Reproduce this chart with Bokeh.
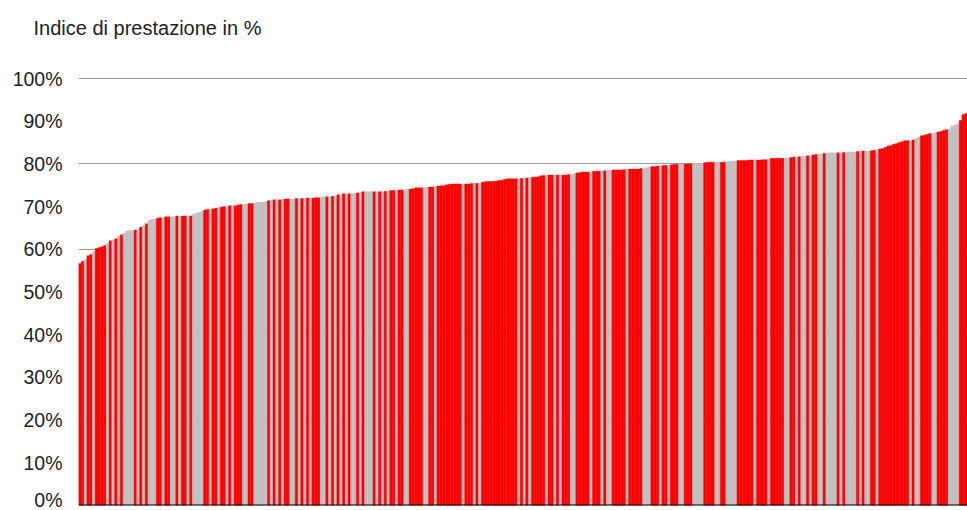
from bokeh.plotting import figure
from bokeh.models import Range1d, FixedTicker, PrintfTickFormatter, Span, ColumnDataSource
from bokeh.embed import file_html
from bokeh.resources import INLINE

# Indice di prestazione (%) per ciascuna unità, ordinato in modo crescente
valori_a = [56.7, 57.2, 57.6, 58.5, 58.8, 59.5, 60.2, 60.4, 60.6, 60.9, 61.4, 62.0, 62.2, 62.5,
            63.0, 63.4, 63.8, 64.3, 64.4, 64.4, 64.5, 64.9, 65.2, 65.6, 66.0, 66.8, 67.0, 67.1,
            67.3, 67.4, 67.5, 67.6, 67.6, 67.6, 67.7, 67.8, 67.8, 67.8, 67.8, 67.8, 67.8, 68.2,
            68.5, 68.7, 68.9, 69.2, 69.3, 69.4, 69.5, 69.6, 69.8, 69.9, 70.0]
gruppi_a = "RR G RR G RRRR G R G R G R GGGG R G R G R GGG RR G RR GG R G RR G R GGGG RR G RR G RR"

valori_b = [70.1, 70.2, 70.2, 70.2, 70.4, 70.5, 70.5, 70.6, 70.7, 70.7, 70.9, 71.0, 71.1, 71.1,
            71.2, 71.4, 71.5, 71.6, 71.6, 71.6, 71.7, 71.8, 71.8, 71.8, 71.8, 71.9, 71.9, 71.9,
            71.9, 72.0, 72.0, 72.0, 72.1, 72.1, 72.2, 72.3, 72.3, 72.3, 72.4, 72.5, 72.8, 72.9,
            73.0, 73.0, 73.0, 73.0, 73.1, 73.2, 73.3, 73.5, 73.5, 73.5, 73.5, 73.5, 73.5, 73.5, 73.5]
gruppi_b = "G R G RRR GG RR GGGGG R G R G R G RR GG R G R G R G RRR GG R G R G R G R G R GG R G R GGG R G R G"

valori_c = [73.6, 73.7, 73.8, 73.8, 73.8, 73.9, 73.9, 74.0, 74.1, 74.1, 74.2, 74.4, 74.4, 74.4,
            74.5, 74.5, 74.6, 74.6, 74.7, 74.8, 74.9, 74.9, 75.1, 75.2, 75.3, 75.3, 75.3, 75.3,
            75.3, 75.3, 75.3, 75.4, 75.4, 75.5, 75.5, 75.7, 75.8, 75.9, 75.9, 75.9, 76.0, 76.1,
            76.2, 76.4, 76.5, 76.5, 76.5, 76.5, 76.6, 76.6, 76.7, 76.7, 76.8, 76.9, 76.9]
gruppi_c = "R G RR G RR GG RRRRR GG RR G RRRRRRRRR G RRR G R G RRRRRRRRRRRRR G R G R G RR"

valori_d = [77.0, 77.2, 77.3, 77.3, 77.4, 77.4, 77.4, 77.4, 77.4, 77.4, 77.4, 77.5, 77.6, 77.7,
            77.9, 78.0, 78.1, 78.1, 78.1, 78.2, 78.3, 78.3, 78.3, 78.4, 78.4, 78.5, 78.5, 78.6,
            78.6, 78.6, 78.6, 78.7, 78.8, 78.8, 78.8, 78.8, 78.8, 78.9, 79.0, 79.1, 79.3, 79.4,
            79.4, 79.5, 79.6, 79.6, 79.6, 79.7, 79.8, 79.9, 79.9, 80.0]
gruppi_d = "RRR G RR G R G RRR GG RRRRR G RRR G R GG RRRRR G RRRRR GGG RRR G RR G RRR G"

valori_e = [80.0, 80.0, 80.0, 80.0, 80.1, 80.1, 80.1, 80.2, 80.3, 80.4, 80.4, 80.4, 80.4, 80.4,
            80.4, 80.4, 80.5, 80.6, 80.6, 80.7, 80.8, 80.8, 80.8, 80.8, 80.9, 80.9, 80.9, 80.9,
            80.9, 81.0, 81.0, 81.1, 81.3, 81.3, 81.3, 81.3, 81.3, 81.4, 81.4, 81.5, 81.6, 81.6,
            81.7, 81.8, 81.8, 81.9, 81.9, 82.1, 82.2, 82.3, 82.3, 82.5, 82.5, 82.6]
gruppi_e = "G RRR GGGG RRRR GG RR GGGG RRRRRR G RRRR G RRRRR GG RR G R GG R G RR GG R GG"

valori_f = [82.6, 82.6, 82.6, 82.6, 82.7, 82.7, 82.8, 82.8, 82.8, 82.9, 82.9, 83.0, 83.0, 83.0,
            83.1, 83.2, 83.4, 83.5, 83.6, 83.9, 84.2, 84.3, 84.6, 84.8, 85.0, 85.2, 85.4, 85.5,
            85.5, 85.6, 86.0, 86.3, 86.6, 86.7, 86.9, 87.1, 87.2, 87.3, 87.5, 87.6, 87.9, 88.0,
            88.2, 88.9, 89.1, 89.4, 90.2, 91.6, 91.8]
gruppi_f = "GG R G R GGGG R G R GG RR G RRRRRRRRRRR G R GG RRRR GG RRRR GGGG RRR"

tick_y = [0, 10, 20, 30, 40, 50, 60, 70, 80, 90, 100]
griglia_y = [20, 40, 60, 80, 100]
titolo = "Indice di prestazione in %"
colori_gruppo = {"R": "#FF0000", "G": "#C0C0C0"}

valori = valori_a + valori_b + valori_c + valori_d + valori_e + valori_f
gruppi = list((gruppi_a + gruppi_b + gruppi_c + gruppi_d + gruppi_e + gruppi_f).replace(" ", ""))
n = min(len(valori), len(gruppi))
valori = valori[:n]
gruppi = gruppi[:n]

src = ColumnDataSource(dict(
    x=list(range(n)),
    top=valori,
    colore=[colori_gruppo[g] for g in gruppi],
))

p = figure(width=967, height=510, output_backend="svg", toolbar_location=None,
           x_range=Range1d(-0.5, n - 0.5), y_range=Range1d(0, 107.03),
           min_border_left=78, min_border_right=0, min_border_top=48, min_border_bottom=5,
           title=titolo)

p.vbar(x="x", top="top", bottom=0, width=1, source=src,
       fill_color="colore", line_color="colore", line_width=0.4)

p.title.text_font = "Liberation Sans"
p.title.text_font_size = "20px"
p.title.text_font_style = "normal"
p.title.text_color = "#222222"
p.title.align = "left"
p.title.offset = -45
p.title.standoff = 20

p.xaxis.visible = False
p.xgrid.visible = False

p.yaxis.ticker = FixedTicker(ticks=tick_y)
p.yaxis.formatter = PrintfTickFormatter(format="%d%%")
p.yaxis.major_label_text_font = "Liberation Sans"
p.yaxis.major_label_text_font_size = "19.5px"
p.yaxis.major_label_text_color = "#222222"
p.yaxis.axis_line_color = None
p.yaxis.major_tick_line_color = None
p.yaxis.minor_tick_line_color = None
p.yaxis.major_tick_out = 0
p.yaxis.major_tick_in = 0
p.yaxis.major_label_standoff = 16

p.ygrid.ticker = FixedTicker(ticks=griglia_y)
p.ygrid.grid_line_color = "#9a9a9a"
p.ygrid.grid_line_width = 1

p.outline_line_color = None
p.background_fill_color = "white"
p.border_fill_color = "white"

p.add_layout(Span(location=0, dimension="width", line_color="black", line_width=2))

open("out.html", "w").write(file_html(p, INLINE))
